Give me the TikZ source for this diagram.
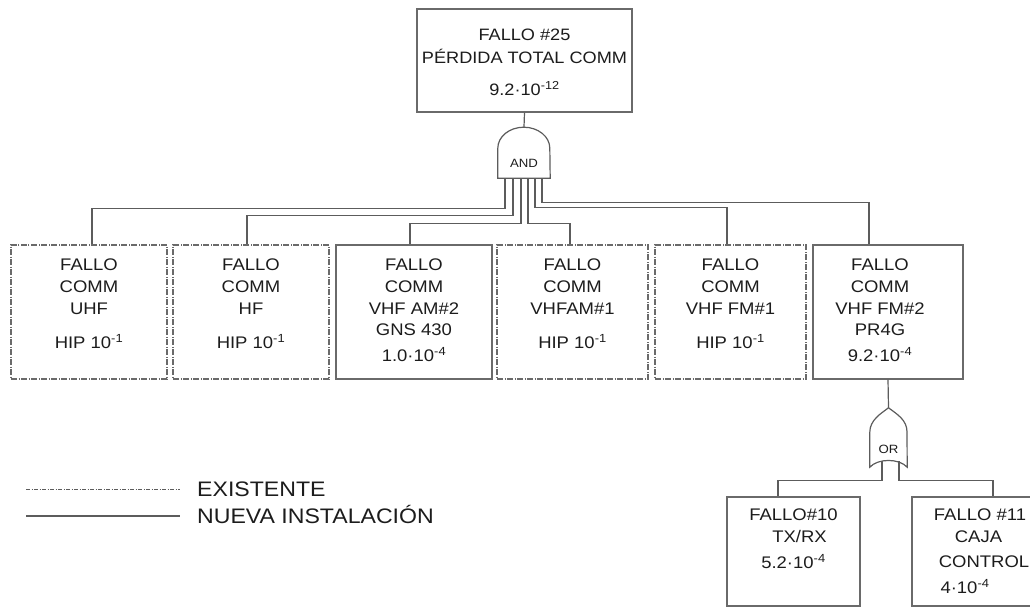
\documentclass[tikz,border=0pt]{standalone}
\usepackage{fontspec}
\setmainfont{Liberation Sans}[FakeStretch=1.1]
\usepackage{xcolor}

\definecolor{wirecol}{HTML}{5C5C5C}
\definecolor{boxcol}{HTML}{6A6A6A}
\definecolor{txtcol}{HTML}{1C1C1C}

\tikzset{
  wire/.style={draw=wirecol, line width=1.2pt},
  evento/.style={rectangle, draw=boxcol, line width=1.1pt, inner sep=0pt, text=txtcol,
    font=\fontsize{16.8}{22}\selectfont},
  existente/.style={evento, dash pattern=on 6pt off 1.5pt on 1pt off 1.5pt},
  puerta/.style={rectangle, inner sep=0pt, text=txtcol, font=\fontsize{12}{12}\selectfont},
  leyenda/.style={inner sep=0pt, text=txtcol, font=\fontsize{21}{27}\selectfont},
}
% box text: height, width, top gap, lines
\newcommand{\celda}[4]{\parbox[c][#1][t]{#2}{\centering\vspace*{#3}#4}}

\begin{document}
\begin{tikzpicture}[x=1pt, y=-1pt]
\useasboundingbox (0,0) rectangle (1030,608);

\node (top) [evento, font=\fontsize{16.5}{23}\selectfont] at (524.5,60.5)
  {\celda{103pt}{215pt}{20pt}{FALLO \#25\\PÉRDIDA TOTAL COMM\\[9pt]9.2·10\textsuperscript{-12}}};

\node (andg) [puerta, minimum width=52pt, minimum height=51pt] at (524,152.5) {\raisebox{-15pt}[0pt][0pt]{AND}};
\draw[wire] (andg.south west) -- ++(0,-30) arc[start angle=180, end angle=360, x radius=26, y radius=21] -- (andg.south east) -- cycle;

\node (f1) [existente] at (89,312) {\celda{134pt}{156pt}{14pt}{FALLO\\COMM\\UHF\\[12pt]HIP 10\textsuperscript{-1}}};
\node (f2) [existente] at (251,312) {\celda{134pt}{156pt}{14pt}{FALLO\\COMM\\HF\\[12pt]HIP 10\textsuperscript{-1}}};
\node (f3) [evento] at (414,312) {\celda{134pt}{156pt}{14pt}{FALLO\\COMM\\VHF AM\#2\\[-1pt]GNS 430\\[4pt]1.0·10\textsuperscript{-4}}};
\node (f4) [existente] at (572.5,312) {\celda{134pt}{151pt}{14pt}{FALLO\\COMM\\VHFAM\#1\\[12pt]HIP 10\textsuperscript{-1}}};
\node (f5) [existente] at (730.5,312) {\celda{134pt}{151pt}{14pt}{FALLO\\COMM\\VHF FM\#1\\[12pt]HIP 10\textsuperscript{-1}}};
\node (f6) [evento] at (888,312) {\celda{134pt}{150pt}{14pt}{\hspace*{-16pt}FALLO\\\hspace*{-16pt}COMM\\\hspace*{-16pt}VHF FM\#2\\[-1pt]\hspace*{-16pt}PR4G\\[4pt]\hspace*{-16pt}9.2·10\textsuperscript{-4}}};

\draw[wire] (top.south) -- (andg.north);
\draw[wire] ([xshift=-19]andg.south) -- ++(0,30) -| ([xshift=3]f1.north);
\draw[wire] ([xshift=-11]andg.south) -- ++(0,37) -| ([xshift=-4]f2.north);
\draw[wire] ([xshift=-3]andg.south) -- ++(0,45) -| ([xshift=-4]f3.north);
\draw[wire] ([xshift=4]andg.south) -- ++(0,45) -| ([xshift=-2.5]f4.north);
\draw[wire] ([xshift=11]andg.south) -- ++(0,29) -| ([xshift=-3.5]f5.north);
\draw[wire] ([xshift=18]andg.south) -- ++(0,24) -| ([xshift=-19]f6.north);

% OR gate under VHF FM#2
\node (org) [puerta, minimum width=37pt, minimum height=59pt] at (888.5,437.5) {\raisebox{-15.8pt}[0pt][0pt]{OR}};
\draw[wire] (org.south west) -- ++(0,-35) .. controls +(0,-12) and +(-8,6) .. (org.north)
  .. controls +(8,6) and +(0,-12) .. ++(18.5,24) -- (org.south east)
  .. controls +(-8,-9) and +(8,-9) .. (org.south west) -- cycle;
\draw[wire] (f6.south) -- (org.north);

\node (f10) [evento] at (793.5,551.5) {\celda{109pt}{133pt}{12pt}{FALLO\#10\\\hspace*{12pt}TX/RX\\[4pt]5.2·10\textsuperscript{-4}}};
\node (f11) [evento] at (978.5,551.5) {\celda{109pt}{133pt}{12pt}{\hspace*{3pt}FALLO \#11\\CAJA\hspace*{9pt}\\[3pt]\hspace*{11pt}CONTROL\\[4pt]\hspace*{-27pt}4·10\textsuperscript{-4}}};

\draw[wire] ([xshift=-6.5,yshift=6]org.south) -- ++(0,19) -| ([xshift=-15.5]f10.north);
\draw[wire] ([xshift=10.5,yshift=6]org.south) -- ++(0,19) -| ([xshift=14.5]f11.north);

% legend
\node (lgexist) [leyenda, anchor=base west] at (197,496.5) {EXISTENTE};
\node (lgnueva) [leyenda, anchor=base west] at (197,523.5) {NUEVA INSTALACIÓN};
\coordinate (lgA1) at (26,489);
\coordinate (lgA2) at (180,489);
\coordinate (lgB1) at (26,516);
\coordinate (lgB2) at (180,516);
\draw[wirecol, line width=0.9pt, dash pattern=on 4pt off 1.5pt on 1pt off 1.5pt] (lgA1) -- (lgA2);
\draw[wire, line width=1.5pt] (lgB1) -- (lgB2);
\end{tikzpicture}
\end{document}
